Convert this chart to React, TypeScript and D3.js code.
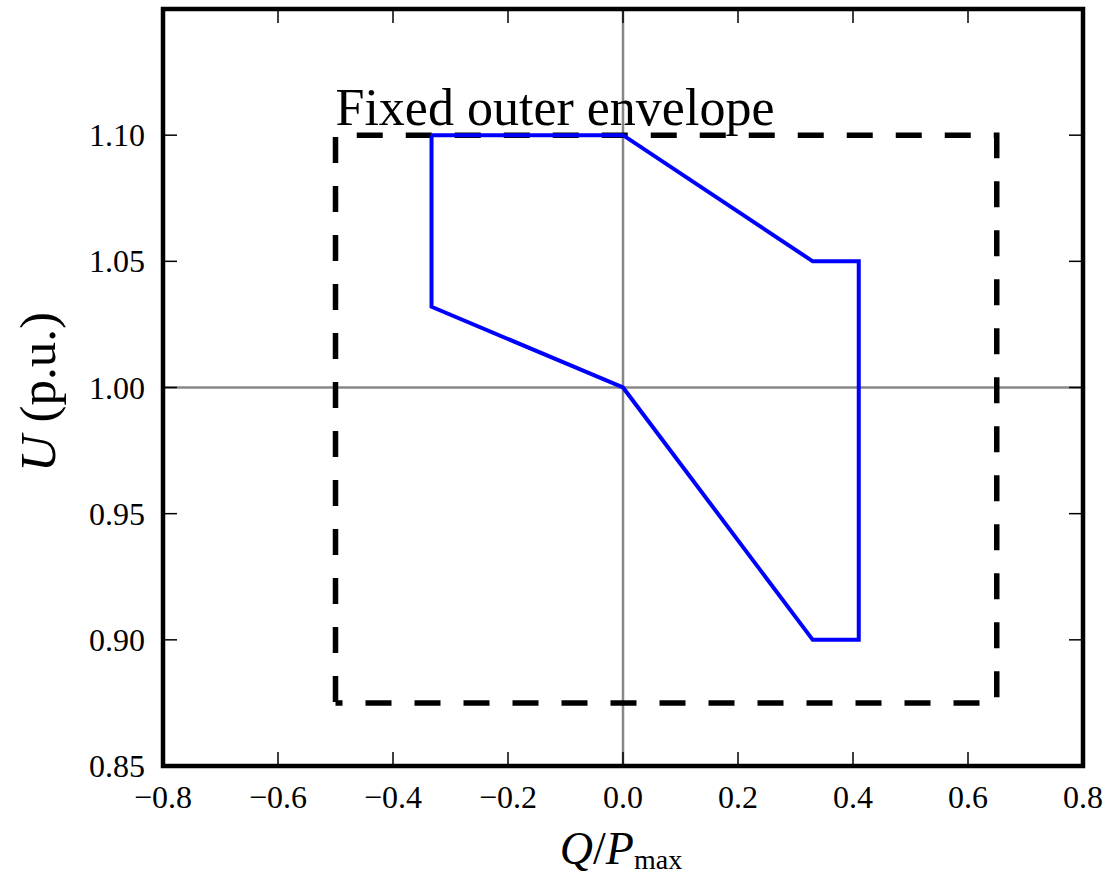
import React from "react";
import * as d3 from "d3";

const xTicks = [-0.8, -0.6, -0.4, -0.2, 0.0, 0.2, 0.4, 0.6, 0.8];
const yTicks = [0.85, 0.9, 0.95, 1.0, 1.05, 1.1];
const regionQ = [-0.333, 0.0, 0.33, 0.41, 0.41, 0.33, 0.0, -0.333, -0.333];
const regionU = [1.1, 1.1, 1.05, 1.05, 0.9, 0.9, 1.0, 1.032, 1.1];
const envelopeQ = [-0.5, -0.5, 0.65, 0.65, -0.5];
const envelopeU = [0.875, 1.1, 1.1, 0.875, 0.875];
const envelopeLabel = "Fixed outer envelope";

const W = 1109, H = 881;
const L = 163, R = 1083, T = 9, B = 766;

export default function App() {
  const x = d3.scaleLinear().domain([-0.8, 0.8]).range([L, R]);
  const y = d3.scaleLinear().domain([0.85, 1.15]).range([B, T]);
  const line = d3.line<[number, number]>().x(d => x(d[0])).y(d => y(d[1]));
  const region = line(regionQ.map((q, i) => [q, regionU[i]] as [number, number]));
  const env = line(envelopeQ.map((q, i) => [q, envelopeU[i]] as [number, number]));
  const font = "'Liberation Serif', 'DejaVu Serif', serif";
  const tl = 14;
  return (
    <svg width={W} height={H} style={{ position: "absolute", left: 0, top: 0, background: "#fff" }}>
      <line x1={x(0)} x2={x(0)} y1={T} y2={B} stroke="#888" strokeWidth={2.5} />
      <line x1={L} x2={R} y1={y(1)} y2={y(1)} stroke="#888" strokeWidth={2.5} />
      <path d={env!} fill="none" stroke="#000" strokeWidth={5.5} strokeDasharray="26,23" strokeDashoffset={-1} />
      <path d={region!} fill="none" stroke="#0000ff" strokeWidth={4} strokeLinejoin="miter" />
      {xTicks.map(t => (
        <g key={"x" + t}>
          <line x1={x(t)} x2={x(t)} y1={B} y2={B - tl} stroke="#000" strokeWidth={1.5} />
          <line x1={x(t)} x2={x(t)} y1={T} y2={T + tl} stroke="#000" strokeWidth={1.5} />
          <text x={x(t)} y={808} textAnchor="middle" fontFamily={font} fontSize={32} fill="#000">
            {(t < 0 ? "\u2212" : "") + Math.abs(t).toFixed(1)}
          </text>
        </g>
      ))}
      {yTicks.map(t => (
        <g key={"y" + t}>
          <line x1={L} x2={L + tl} y1={y(t)} y2={y(t)} stroke="#000" strokeWidth={1.5} />
          <line x1={R} x2={R - tl} y1={y(t)} y2={y(t)} stroke="#000" strokeWidth={1.5} />
          <text x={145} y={y(t) + 11} textAnchor="end" fontFamily={font} fontSize={32} fill="#000">
            {t.toFixed(2)}
          </text>
        </g>
      ))}
      <rect x={L} y={T} width={R - L} height={B - T} fill="none" stroke="#000" strokeWidth={4.5} />
      <text x={x(-0.5)} y={125} fontFamily={font} fontSize={52} fill="#000">{envelopeLabel}</text>
      <text transform={`translate(55, 392) rotate(-90)`} textAnchor="middle" fontFamily={font} fontSize={51} fill="#000">
        <tspan fontStyle="italic">U</tspan> (p.u.)
      </text>
      <text x={621} y={864} textAnchor="middle" fontFamily={font} fontSize={46} fill="#000">
        <tspan fontStyle="italic">Q</tspan>/<tspan fontStyle="italic">P</tspan>
        <tspan fontSize={28} dy={5}>max</tspan>
      </text>
    </svg>
  );
}
